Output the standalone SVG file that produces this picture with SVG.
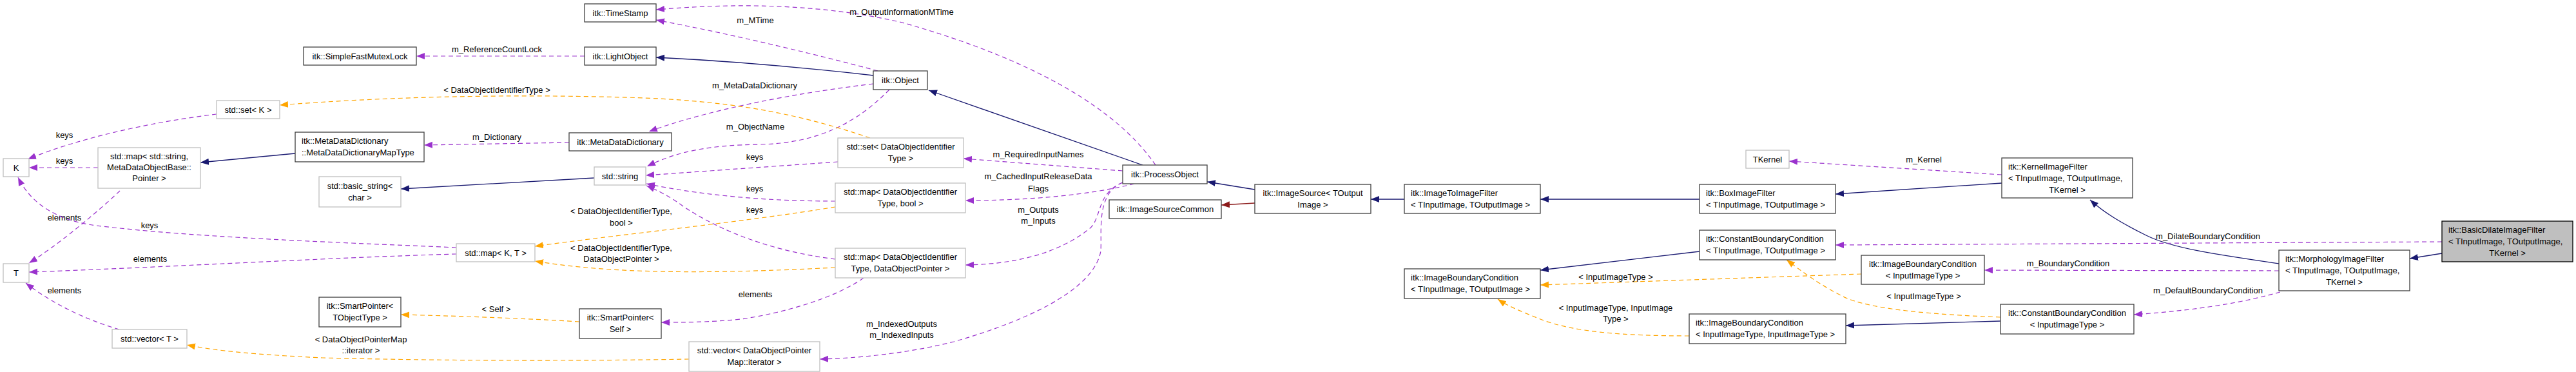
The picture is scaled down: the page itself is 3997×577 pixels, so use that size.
<svg xmlns="http://www.w3.org/2000/svg" width="3997" height="577" viewBox="0 0 3997 577">
<style>
text{font-family:"Liberation Sans",Arial,sans-serif;font-size:13px;fill:#000}
.m{text-anchor:middle}
.b{fill:#fff;stroke:#404040;stroke-width:1.3}
.g{fill:#fff;stroke:#bfbfbf;stroke-width:1.3}
.sel{fill:#bfbfbf;stroke:#000;stroke-width:1.3}
.p{fill:none;stroke:#9a32cd;stroke-width:1.2;stroke-dasharray:7,5;marker-end:url(#ap)}
.o{fill:none;stroke:#ffa500;stroke-width:1.2;stroke-dasharray:7,5;marker-end:url(#ao)}
.n{fill:none;stroke:#191970;stroke-width:1.3;marker-end:url(#an)}
.r{fill:none;stroke:#8b1a1a;stroke-width:1.3;marker-end:url(#ar)}
</style>
<defs>
<marker id="ap" markerUnits="userSpaceOnUse" markerWidth="14" markerHeight="12" refX="13" refY="5" orient="auto"><path d="M0,0L13,5L0,10z" fill="#9a32cd"/></marker>
<marker id="ao" markerUnits="userSpaceOnUse" markerWidth="14" markerHeight="12" refX="13" refY="5" orient="auto"><path d="M0,0L13,5L0,10z" fill="#ffa500"/></marker>
<marker id="an" markerUnits="userSpaceOnUse" markerWidth="14" markerHeight="12" refX="13" refY="5" orient="auto"><path d="M0,0L13,5L0,10z" fill="#191970"/></marker>
<marker id="ar" markerUnits="userSpaceOnUse" markerWidth="14" markerHeight="12" refX="13" refY="5" orient="auto"><path d="M0,0L13,5L0,10z" fill="#8b1a1a"/></marker>
</defs>
<rect width="3997" height="577" fill="#fff"/>
<g id="edges">
<path class="p" d="M907,87 L646,87"/><text class="m" x="771" y="81">m_ReferenceCountLock</text>
<path class="n" d="M1355,117 C1250,105 1120,94 1018,89"/>
<path class="p" d="M1362,110 C1250,80 1120,50 1018,31"/><text class="m" x="1172" y="36">m_MTime</text>
<path class="p" d="M1793,256 C1720,150 1560,80 1400,35 C1250,0 1100,8 1018,15"/><text class="m" x="1399" y="23">m_OutputInformationMTime</text>
<path class="p" d="M1355,130 C1230,145 1100,170 1007,204"/><text class="m" x="1171" y="137">m_MetaDataDictionary</text>
<path class="p" d="M883,221 L658,225"/><text class="m" x="771" y="217">m_Dictionary</text>
<path class="n" d="M458,238 L311,252"/>
<path class="n" d="M922,276 L622,293"/>
<path class="p" d="M1380,139 C1330,190 1270,222 1180,224 C1100,225 1050,235 1004,258"/><text class="m" x="1172" y="201">m_ObjectName</text>
<path class="p" d="M1300,251 L1002,272"/><text class="m" x="1171" y="248">keys</text>
<path class="p" d="M1296,312 C1200,312 1100,305 1003,285"/><text class="m" x="1171" y="297">keys</text>
<path class="p" d="M1296,402 C1200,390 1120,360 1060,320 C1040,305 1020,295 1003,288"/><text class="m" x="1171" y="330">keys</text>
<path class="o" d="M1296,321 C1150,345 950,365 830,382"/><text class="m" x="964" y="332">&lt; DataObjectIdentifierType,</text><text class="m" x="964" y="350">bool &gt;</text>
<path class="o" d="M1296,415 C1100,425 950,425 830,405"/><text class="m" x="964" y="389">&lt; DataObjectIdentifierType,</text><text class="m" x="964" y="406">DataObjectPointer &gt;</text>
<path class="p" d="M1742,265 L1495,246"/><text class="m" x="1611" y="244">m_RequiredInputNames</text>
<path class="p" d="M1760,285 C1680,305 1580,311 1498,311"/><text class="m" x="1611" y="278">m_CachedInputReleaseData</text><text class="m" x="1611" y="297">Flags</text>
<path class="p" d="M1742,283 C1700,300 1710,340 1690,355 C1640,395 1570,410 1498,411"/><text class="m" x="1611" y="330">m_Outputs</text><text class="m" x="1611" y="347">m_Inputs</text>
<path class="p" d="M1742,283 C1700,300 1710,360 1708,389 C1700,440 1620,490 1480,530 C1400,550 1320,556 1272,557"/><text class="m" x="1399" y="507">m_IndexedOutputs</text><text class="m" x="1399" y="524">m_IndexedInputs</text>
<path class="n" d="M1773,256 L1441,140"/>
<path class="n" d="M1947,294 L1873,282"/>
<path class="r" d="M1947,315 L1895,318"/>
<path class="n" d="M2179,309 L2127,309"/>
<path class="n" d="M2637,309 L2390,309"/>
<path class="n" d="M3106,284 L2848,301"/>
<path class="p" d="M3106,271 L2776,250"/><text class="m" x="2985" y="252">m_Kernel</text>
<path class="n" d="M3536,409 C3440,395 3370,385 3330,365 C3290,345 3265,330 3243,310"/>
<path class="n" d="M3789,393 L3739,401"/>
<path class="p" d="M3789,375 L2848,380"/><text class="m" x="3426" y="371">m_DilateBoundaryCondition</text>
<path class="p" d="M3536,420 L3079,419"/><text class="m" x="3209" y="413">m_BoundaryCondition</text>
<path class="p" d="M3538,453 C3460,475 3380,483 3311,488"/><text class="m" x="3426" y="455">m_DefaultBoundaryCondition</text>
<path class="n" d="M2637,390 L2390,419"/>
<path class="o" d="M2888,425 L2390,442"/><text class="m" x="2507" y="434">&lt; InputImageType &gt;</text>
<path class="o" d="M3104,492 C3000,488 2900,480 2860,460 C2820,440 2795,420 2772,403"/><text class="m" x="2985" y="464">&lt; InputImageType &gt;</text>
<path class="o" d="M2621,521 C2520,521 2440,515 2390,495 C2360,483 2340,475 2324,464"/><text class="m" x="2507" y="482">&lt; InputImageType, InputImage</text><text class="m" x="2507" y="499">Type &gt;</text>
<path class="n" d="M3104,498 L2864,505"/>
<path class="o" d="M1350,214 C1250,180 1150,158 1000,152 C800,145 600,150 434,163"/><text class="m" x="771" y="144">&lt; DataObjectIdentifierType &gt;</text>
<path class="p" d="M336,177 C230,190 120,215 43,247"/><text class="m" x="100" y="214">keys</text>
<path class="p" d="M152,260 L45,260"/><text class="m" x="100" y="254">keys</text>
<path class="p" d="M186,296 C150,330 90,380 45,408"/><text class="m" x="100" y="342">elements</text>
<path class="p" d="M708,384 C500,375 300,368 150,350 C70,340 40,300 28,275"/><text class="m" x="232" y="354">keys</text>
<path class="p" d="M708,394 C500,400 250,415 45,422"/><text class="m" x="233" y="406">elements</text>
<path class="p" d="M185,511 C130,495 80,470 40,439"/><text class="m" x="100" y="455">elements</text>
<path class="o" d="M1069,557 C900,560 700,560 500,555 C400,550 340,545 290,535"/><text class="m" x="560" y="531">&lt; DataObjectPointerMap</text><text class="m" x="560" y="548">::iterator &gt;</text>
<path class="p" d="M1340,431 C1300,460 1220,485 1150,495 C1100,500 1060,500 1026,500"/><text class="m" x="1172" y="461">elements</text>
<path class="o" d="M899,499 C800,493 700,490 622,488"/><text class="m" x="770" y="484">&lt; Self &gt;</text>
</g>
<g id="n_SFML"><rect class="b" x="471" y="73" width="175" height="28"/><text class="m" x="558.5" y="92">itk::SimpleFastMutexLock</text></g>
<g id="n_setK"><rect class="g" x="336" y="156" width="98" height="28"/><text class="m" x="385" y="175">std::set&lt; K &gt;</text></g>
<g id="n_MapType"><rect class="b" x="458" y="205" width="200" height="46"/><text x="468" y="223">itk::MetaDataDictionary</text><text x="468" y="241">::MetaDataDictionaryMapType</text></g>
<g id="n_mapStr"><rect class="g" x="152" y="229" width="159" height="63"/><text class="m" x="231.5" y="247">std::map&lt; std::string,</text><text class="m" x="231.5" y="264">MetaDataObjectBase::</text><text class="m" x="231.5" y="281">Pointer &gt;</text></g>
<g id="n_K"><rect class="g" x="5" y="246" width="40" height="28"/><text class="m" x="25" y="265">K</text></g>
<g id="n_basic"><rect class="g" x="495" y="274" width="127" height="47"/><text class="m" x="558.5" y="293">std::basic_string&lt;</text><text class="m" x="558.5" y="311">char &gt;</text></g>
<g id="n_T"><rect class="g" x="5" y="409" width="40" height="29"/><text class="m" x="25" y="428">T</text></g>
<g id="n_SPT"><rect class="b" x="495" y="461" width="127" height="46"/><text class="m" x="558.5" y="479">itk::SmartPointer&lt;</text><text class="m" x="558.5" y="497">TObjectType &gt;</text></g>
<g id="n_vecT"><rect class="g" x="174" y="511" width="116" height="29"/><text class="m" x="232" y="530">std::vector&lt; T &gt;</text></g>
<g id="n_TS"><rect class="b" x="907" y="6" width="111" height="28"/><text class="m" x="962.5" y="25">itk::TimeStamp</text></g>
<g id="n_LO"><rect class="b" x="907" y="73" width="111" height="28"/><text class="m" x="962.5" y="92">itk::LightObject</text></g>
<g id="n_MDD"><rect class="b" x="883" y="206" width="159" height="28"/><text class="m" x="962.5" y="225">itk::MetaDataDictionary</text></g>
<g id="n_str"><rect class="g" x="922" y="259" width="80" height="28"/><text class="m" x="962" y="278">std::string</text></g>
<g id="n_mapKT"><rect class="g" x="708" y="378" width="122" height="28"/><text class="m" x="769" y="397">std::map&lt; K, T &gt;</text></g>
<g id="n_SPS"><rect class="b" x="899" y="479" width="127" height="46"/><text class="m" x="962.5" y="497">itk::SmartPointer&lt;</text><text class="m" x="962.5" y="515">Self &gt;</text></g>
<g id="n_vecDOP"><rect class="g" x="1069" y="530" width="203" height="46"/><text class="m" x="1170.5" y="548">std::vector&lt; DataObjectPointer</text><text class="m" x="1170.5" y="566">Map::iterator &gt;</text></g>
<g id="n_setDOIT"><rect class="g" x="1300" y="214" width="195" height="46"/><text class="m" x="1397.5" y="232">std::set&lt; DataObjectIdentifier</text><text class="m" x="1397.5" y="250">Type &gt;</text></g>
<g id="n_mapBool"><rect class="g" x="1296" y="284" width="202" height="46"/><text class="m" x="1397" y="302">std::map&lt; DataObjectIdentifier</text><text class="m" x="1397" y="320">Type, bool &gt;</text></g>
<g id="n_mapDOP"><rect class="g" x="1296" y="385" width="202" height="46"/><text class="m" x="1397" y="403">std::map&lt; DataObjectIdentifier</text><text class="m" x="1397" y="421">Type, DataObjectPointer &gt;</text></g>
<g id="n_Obj"><rect class="b" x="1355" y="110" width="84" height="29"/><text class="m" x="1397" y="129">itk::Object</text></g>
<g id="n_PO"><rect class="b" x="1742" y="256" width="131" height="29"/><text class="m" x="1807.5" y="275">itk::ProcessObject</text></g>
<g id="n_ISC"><rect class="b" x="1721" y="310" width="174" height="29"/><text class="m" x="1808" y="329">itk::ImageSourceCommon</text></g>
<g id="n_IS"><rect class="b" x="1947" y="286" width="180" height="45"/><text class="m" x="2037" y="304">itk::ImageSource&lt; TOutput</text><text class="m" x="2037" y="322">Image &gt;</text></g>
<g id="n_I2I"><rect class="b" x="2179" y="286" width="211" height="45"/><text x="2189" y="304">itk::ImageToImageFilter</text><text x="2189" y="322">&lt; TInputImage, TOutputImage &gt;</text></g>
<g id="n_IBC_TT"><rect class="b" x="2179" y="417" width="211" height="46"/><text x="2189" y="435">itk::ImageBoundaryCondition</text><text x="2189" y="453">&lt; TInputImage, TOutputImage &gt;</text></g>
<g id="n_TK"><rect class="g" x="2709" y="233" width="67" height="28"/><text class="m" x="2742.5" y="252">TKernel</text></g>
<g id="n_Box"><rect class="b" x="2637" y="286" width="211" height="45"/><text x="2647" y="304">itk::BoxImageFilter</text><text x="2647" y="322">&lt; TInputImage, TOutputImage &gt;</text></g>
<g id="n_CBC_TT"><rect class="b" x="2637" y="357" width="211" height="46"/><text x="2647" y="375">itk::ConstantBoundaryCondition</text><text x="2647" y="393">&lt; TInputImage, TOutputImage &gt;</text></g>
<g id="n_IBC_I"><rect class="b" x="2888" y="396" width="191" height="45"/><text class="m" x="2983.5" y="414">itk::ImageBoundaryCondition</text><text class="m" x="2983.5" y="432">&lt; InputImageType &gt;</text></g>
<g id="n_IBC_II"><rect class="b" x="2621" y="487" width="243" height="46"/><text x="2631" y="505">itk::ImageBoundaryCondition</text><text x="2631" y="523">&lt; InputImageType, InputImageType &gt;</text></g>
<g id="n_KIF"><rect class="b" x="3106" y="245" width="203" height="62"/><text x="3116" y="263">itk::KernelImageFilter</text><text x="3116" y="281">&lt; TInputImage, TOutputImage,</text><text class="m" x="3207.5" y="299">TKernel &gt;</text></g>
<g id="n_CBC_I"><rect class="b" x="3104" y="472" width="207" height="46"/><text class="m" x="3207.5" y="490">itk::ConstantBoundaryCondition</text><text class="m" x="3207.5" y="508">&lt; InputImageType &gt;</text></g>
<g id="n_MIF"><rect class="b" x="3536" y="388" width="203" height="63"/><text x="3546" y="406">itk::MorphologyImageFilter</text><text x="3546" y="424">&lt; TInputImage, TOutputImage,</text><text class="m" x="3637.5" y="442">TKernel &gt;</text></g>
<g id="n_BD"><rect class="sel" x="3789" y="343" width="203" height="63"/><text x="3799" y="361">itk::BasicDilateImageFilter</text><text x="3799" y="379">&lt; TInputImage, TOutputImage,</text><text class="m" x="3890.5" y="397">TKernel &gt;</text></g>
</svg>
